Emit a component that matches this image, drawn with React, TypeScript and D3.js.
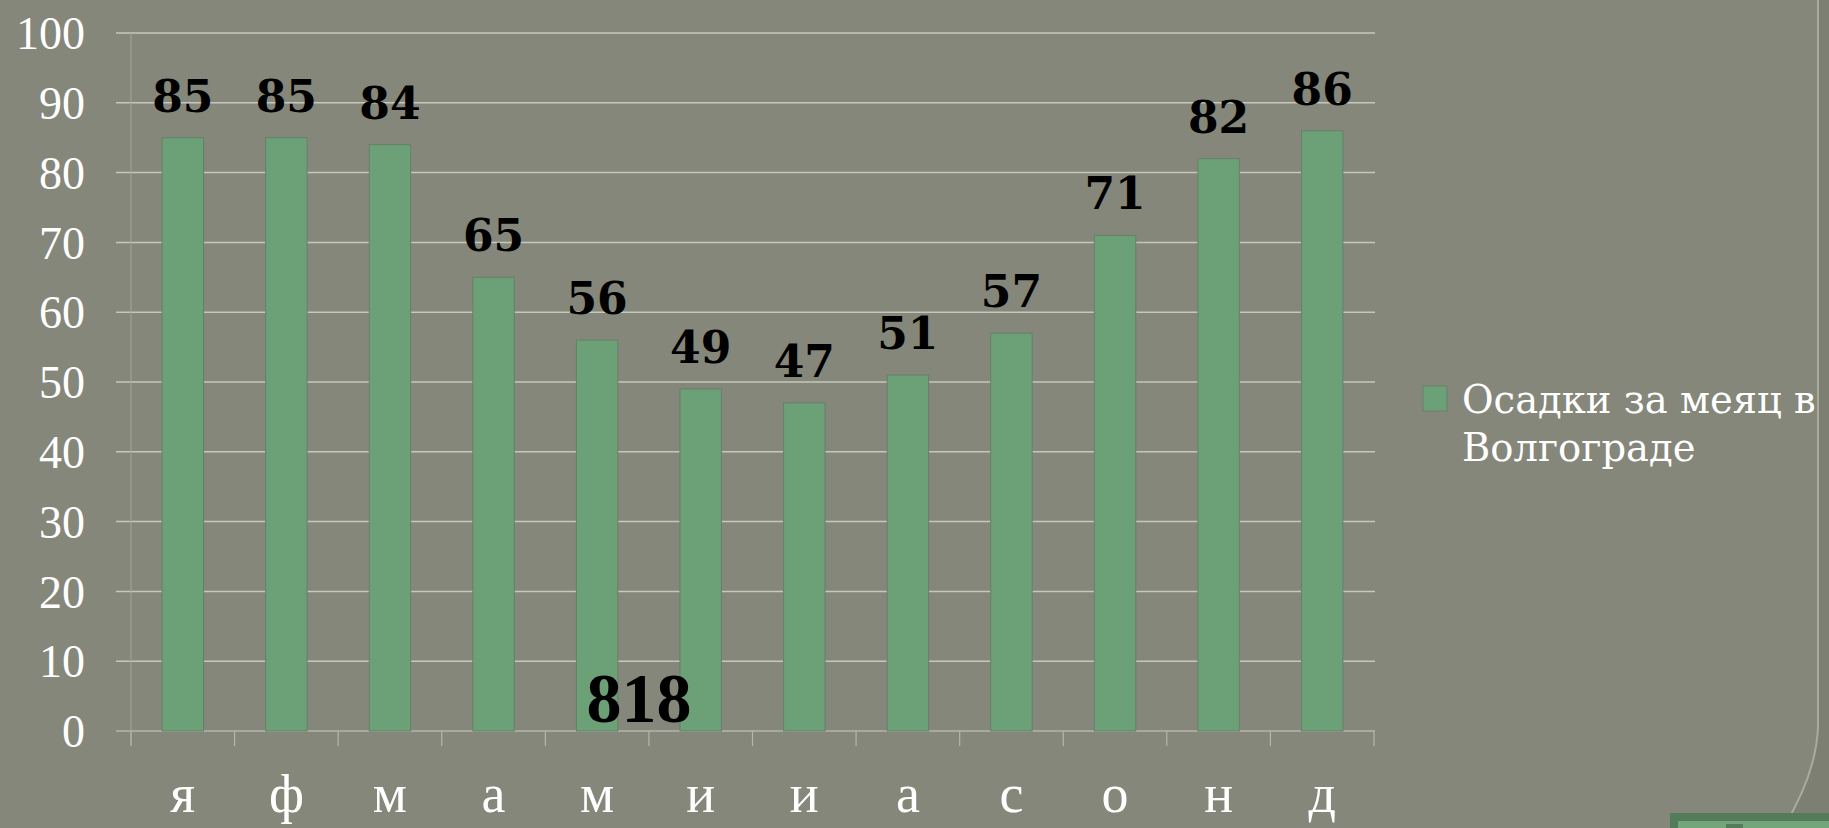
import React, { useEffect, useRef } from "react";
import { select, scaleBand, scaleLinear, range } from "d3";

const months = ["я", "ф", "м", "а", "м", "и", "и", "а", "с", "о", "н", "д"];
const rainfall = [85, 85, 84, 65, 56, 49, 47, 51, 57, 71, 82, 86];
const yTicks = [0, 10, 20, 30, 40, 50, 60, 70, 80, 90, 100];
const seriesName = ["Осадки за меяц в", "Волгограде"];
const totalLabel = "818";

const W = 1829;
const H = 828;
const plot = { left: 131, right: 1374, top: 33, bottom: 731 };

const bg = "#85877a";
const barFill = "#6ca077";
const barStroke = "#66806a";
const gridColor = "#c6c7bd";

function App() {
  const svgRef = useRef<SVGSVGElement>(null);

  useEffect(() => {
    const svg = select(svgRef.current);
    svg.selectAll("*").remove();

    svg.append("rect").attr("width", W).attr("height", H).attr("fill", bg);

    // slide decoration on the right
    svg
      .append("path")
      .attr("d", `M1829,0 L1818,0 L1818,727 Q1816,775 1783,828 L1829,828 Z`)
      .attr("fill", "#7d7f72");
    svg
      .append("path")
      .attr("d", `M1818,0 L1818,727 Q1816,775 1783,828`)
      .attr("fill", "none")
      .attr("stroke", "#a9ab9c")
      .attr("stroke-width", 2);
    svg.append("rect").attr("x", 1670).attr("y", 813).attr("width", 160).attr("height", 20).attr("fill", "#547c5a");
    svg.append("rect").attr("x", 1678).attr("y", 821).attr("width", 152).attr("height", 10).attr("fill", "#74a57b");
    svg.append("rect").attr("x", 1726).attr("y", 824).attr("width", 17).attr("height", 6).attr("fill", "#547c5a");

    const x = scaleBand<number>()
      .domain(range(months.length))
      .range([plot.left, plot.right])
      .paddingInner(0.6)
      .paddingOuter(0.3);

    const y = scaleLinear().domain([0, 100]).range([plot.bottom, plot.top]);

    // gridlines + y labels
    const g = svg.append("g");
    yTicks.forEach((t) => {
      g.append("line")
        .attr("x1", 116)
        .attr("x2", plot.right + 1)
        .attr("y1", y(t))
        .attr("y2", y(t))
        .attr("stroke", t === 0 ? "#b5b6ac" : gridColor)
        .attr("stroke-width", 1.5);
      g.append("text")
        .attr("x", 85)
        .attr("y", y(t))
        .attr("dy", "0.35em")
        .attr("text-anchor", "end")
        .attr("font-family", "Liberation Serif, serif")
        .attr("font-size", 46)
        .attr("fill", "#ffffff")
        .text(t);
    });

    g.append("line")
      .attr("x1", plot.left)
      .attr("x2", plot.left)
      .attr("y1", plot.top)
      .attr("y2", plot.bottom + 15)
      .attr("stroke", "#a3a59a")
      .attr("stroke-width", 1);

    // category ticks
    range(months.length + 1).forEach((i) => {
      const xx = plot.left + i * x.step();
      g.append("line")
        .attr("x1", xx)
        .attr("x2", xx)
        .attr("y1", plot.bottom)
        .attr("y2", plot.bottom + 15)
        .attr("stroke", "#b5b6ac")
        .attr("stroke-width", 1.2);
    });

    // bars
    svg
      .append("g")
      .selectAll("rect")
      .data(rainfall)
      .join("rect")
      .attr("x", (d, i) => x(i)!)
      .attr("y", (d) => y(d))
      .attr("width", x.bandwidth())
      .attr("height", (d) => y(0) - y(d))
      .attr("fill", barFill)
      .attr("stroke", barStroke)
      .attr("stroke-width", 1);

    // value labels
    svg
      .append("g")
      .selectAll("text")
      .data(rainfall)
      .join("text")
      .attr("x", (d, i) => x(i)! + x.bandwidth() / 2)
      .attr("y", (d) => y(d) - 26)
      .attr("text-anchor", "middle")
      .attr("font-family", "DejaVu Serif, serif")
      .attr("font-weight", "bold")
      .attr("font-size", 44)
      .attr("fill", "#000")
      .text((d) => d);

    // month labels
    svg
      .append("g")
      .selectAll("text")
      .data(months)
      .join("text")
      .attr("x", (d, i) => x(i)! + x.bandwidth() / 2)
      .attr("y", 812)
      .attr("text-anchor", "middle")
      .attr("font-family", "Liberation Serif, serif")
      .attr("font-size", 54)
      .attr("fill", "#ffffff")
      .text((d) => d);

    // total
    svg
      .append("text")
      .attr("x", 639)
      .attr("y", 722)
      .attr("text-anchor", "middle")
      .attr("font-family", "Liberation Serif, serif")
      .attr("font-weight", "bold")
      .attr("font-size", 70)
      .attr("fill", "#000")
      .text(totalLabel);

    // legend
    const lg = svg.append("g");
    lg.append("rect")
      .attr("x", 1423)
      .attr("y", 386)
      .attr("width", 24)
      .attr("height", 25)
      .attr("fill", barFill)
      .attr("stroke", barStroke)
      .attr("stroke-width", 1);
    seriesName.forEach((s, i) => {
      lg.append("text")
        .attr("x", 1462)
        .attr("y", 413 + i * 48)
        .attr("font-family", "DejaVu Serif, serif")
        .attr("font-size", 38.5)
        .attr("fill", "#ffffff")
        .text(s);
    });
  }, []);

  return (
    <svg
      ref={svgRef}
      width={W}
      height={H}
      style={{ position: "absolute", left: 0, top: 0, display: "block" }}
    />
  );
}

export default App;
